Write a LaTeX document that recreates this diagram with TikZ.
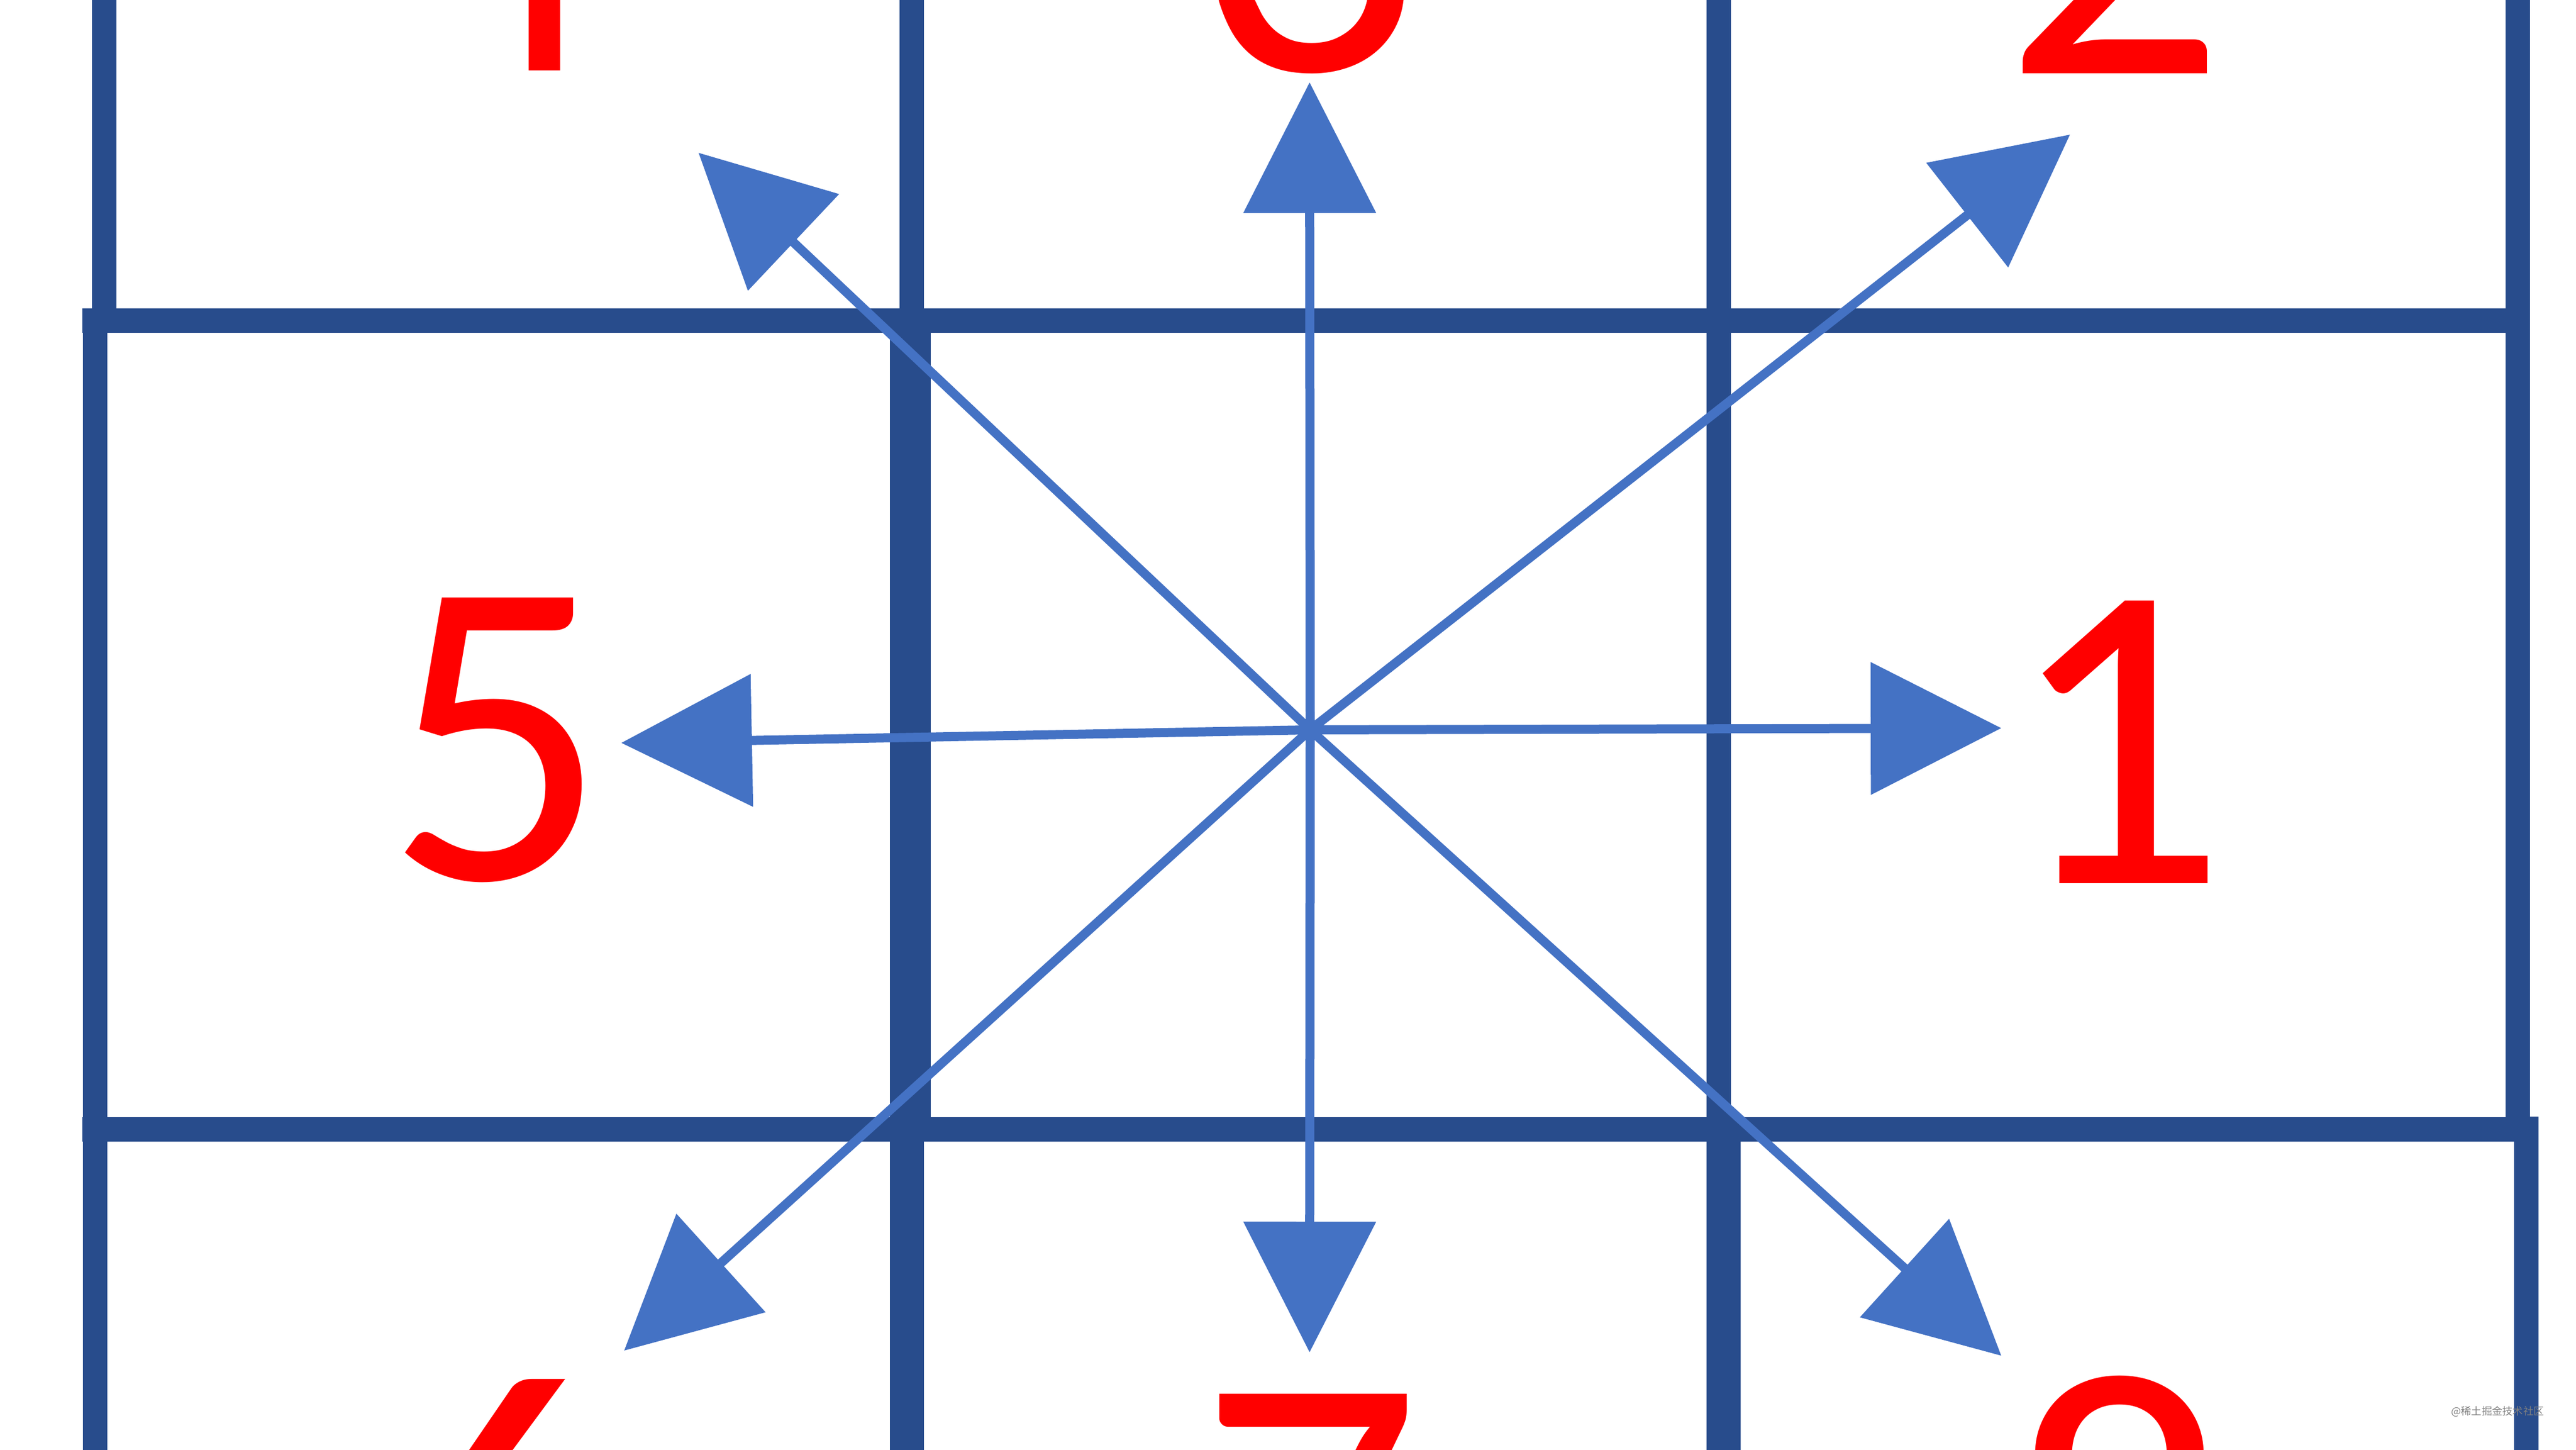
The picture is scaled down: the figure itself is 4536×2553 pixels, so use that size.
\documentclass[tikz,border=0pt]{standalone}
\usepackage{fontspec}
\setmainfont{Carlito}
\newfontfamily\cjkfont{Noto Sans CJK SC}
\usetikzlibrary{arrows.meta}

\definecolor{gitterblau}{RGB}{40,76,140}
\definecolor{pfeilblau}{RGB}{68,114,196}

\tikzset{
	gitter/.style={gitterblau,line width=4.3mm},
	pfeil/.style={pfeilblau,line width=1.6mm,-{Triangle[length=23mm,width=23mm]}},
	ziffer/.style={red,inner sep=0pt,anchor=base,font=\fontsize{220}{220}\selectfont}
}

\begin{document}
\begin{tikzpicture}[x=0.1mm,y=-0.1mm]
		\useasboundingbox (0,0) rectangle (4536,2553);
		% Raster
		\draw[gitter] (183,0) -- (183,565);
		\draw[gitter] (1605,0) -- (1605,565);
		\draw[gitter] (3026,0) -- (3026,565);
		\draw[gitter] (4433,0) -- (4433,1988);
		\draw[gitter] (167,543) -- (167,2553);
		\draw[gitter,line width=7.2mm] (1603,565) -- (1603,1988);
		\draw[gitter] (3026,565) -- (3026,1988);
		\draw[gitter,line width=6mm] (1597,1988) -- (1597,2553);
		\draw[gitter,line width=6mm] (3035,1988) -- (3035,2553);
		\draw[gitter] (4448,1966) -- (4448,2553);
		\draw[gitter] (145,565) -- (4433,565);
		\draw[gitter] (145,1988) -- (4470,1988);
		
		% Mitte und Pfeilspitzen
		\coordinate (m) at (2307,1285);
		\coordinate (t1) at (3524,1282);
		\coordinate (t2) at (3645,237);
		\coordinate (t3) at (2306,145);
		\coordinate (t4) at (1230,269);
		\coordinate (t5) at (1094,1308);
		\coordinate (t6) at (1099,2378);
		\coordinate (t7) at (2306,2381);
		\coordinate (t8) at (3524,2387);
		
		% Pfeile
		\draw[pfeil] (m) -- (t1);
		\draw[pfeil] (m) -- (t2);
		\draw[pfeil] (m) -- (t3);
		\draw[pfeil] (m) -- (t4);
		\draw[pfeil] (m) -- (t5);
		\draw[pfeil] (m) -- (t6);
		\draw[pfeil] (m) -- (t7);
		\draw[pfeil] (m) -- (t8);
		
		% Ziffern
		\node[ziffer] (z4) at (875,125) {4};
		\node[ziffer] (z3) at (2306,125) {3};
		\node[ziffer] (z2) at (3723,130) {2};
		\node[ziffer] (z5) at (874,1548) {5};
		\node[ziffer] (z1) at (3726,1555) {1};
		\node[ziffer] (z6) at (882,2950) {6};
		\node[ziffer] (z7) at (2306,2950) {7};
		\node[ziffer] (z8) at (3732,2950) {8};
		
		% Wasserzeichen
		\node[gray,inner sep=0pt,font=\cjkfont\fontsize{5.2}{5.2}\selectfont] (wz) at (4398,2485) {@稀土掘金技术社区};
	\end{tikzpicture}
\end{document}
